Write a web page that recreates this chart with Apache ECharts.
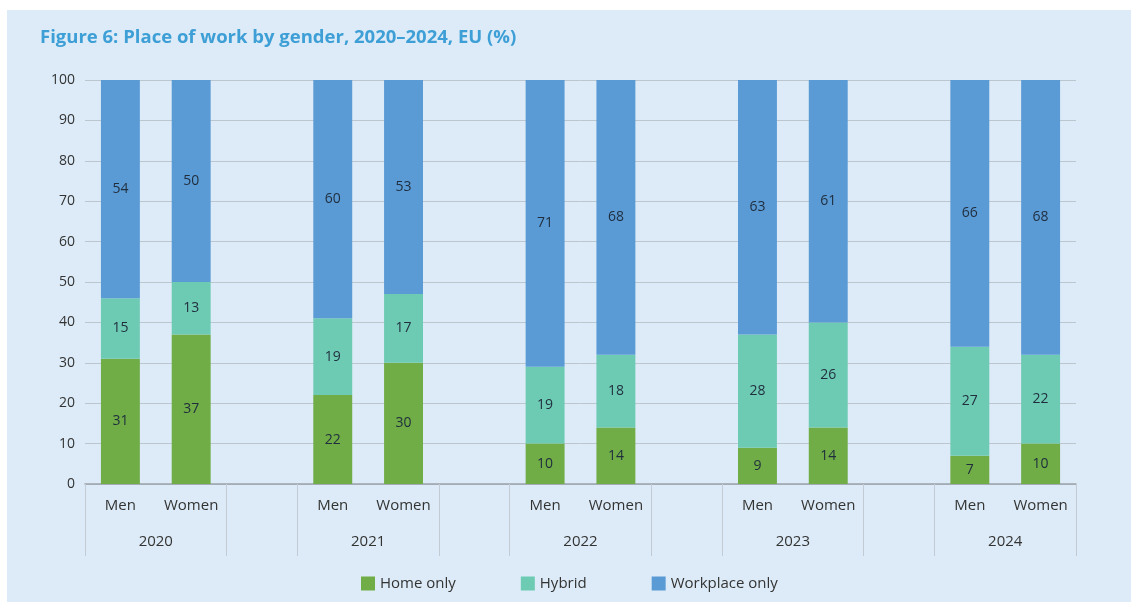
<!DOCTYPE html>
<html>
<head>
<meta charset="utf-8">
<script src="https://cdn.jsdelivr.net/npm/echarts@6/dist/echarts.min.js"></script>
<style>
html,body{margin:0;padding:0;background:#ffffff;width:1131px;height:602px;overflow:hidden;}
#c{position:absolute;left:7px;top:10px;width:1124px;height:592px;}
</style>
</head>
<body>
<div id="c"></div>
<script>
const years = ['2020', '2021', '2022', '2023', '2024'];
const genders = ['Men', 'Women'];
const homeOnly = [31, 37, 22, 30, 10, 14, 9, 14, 7, 10];
const hybrid = [15, 13, 19, 17, 19, 18, 28, 26, 27, 22];
const workplaceOnly = [54, 50, 60, 53, 71, 68, 63, 61, 66, 68];
const seriesNames = ['Home only', 'Hybrid', 'Workplace only'];
const yTicks = [0, 10, 20, 30, 40, 50, 60, 70, 80, 90, 100];

// build slots: Men, Women, gap, Men, Women, gap, ...
const slotLabels = [];
function toSlots(arr) {
  const out = [];
  years.forEach((y, i) => {
    out.push(arr[i * 2], arr[i * 2 + 1]);
    if (i < years.length - 1) out.push(null);
  });
  return out;
}
years.forEach((y, i) => {
  slotLabels.push(genders[0], genders[1]);
  if (i < years.length - 1) slotLabels.push('');
});
const nSlots = slotLabels.length;
const boundaries = [];
const yearCenters = [];
years.forEach((y, i) => {
  const s = i * 3;
  boundaries.push(s, s + 2);
  yearCenters.push(s + 1);
});
boundaries.push(nSlots);

const chart = echarts.init(document.getElementById('c'));
const labelStyle = { show: true, position: 'inside', color: '#1f2d3d', fontSize: 14, fontFamily: 'Open Sans' };
function mk(name, data, color) {
  return {
    name: name, type: 'bar', stack: 'total', xAxisIndex: 0,
    data: toSlots(data), barWidth: '55%',
    itemStyle: { color: color },
    label: labelStyle
  };
}
chart.setOption({
  backgroundColor: '#dcebf7',
  animation: false,
  title: {
    text: 'Figure 6: Place of work by gender, 2020–2024, EU (%)',
    left: 28, top: 13,
    textStyle: { color: '#3d9fd6', fontSize: 18.5, fontWeight: 'bold', fontFamily: 'Open Sans' }
  },
  legend: {
    data: seriesNames,
    left: 349, top: 561,
    itemWidth: 14, itemHeight: 14, itemGap: 65,
    icon: 'rect',
    textStyle: { color: '#333', fontSize: 15, fontFamily: 'Open Sans' }
  },
  grid: { left: 78, right: 55, top: 70, bottom: 118 },
  xAxis: [
    {
      type: 'category', data: slotLabels, position: 'bottom',
      axisLine: { show: true, lineStyle: { color: '#9aa4ac', width: 1.5 } },
      axisTick: { show: false },
      axisLabel: { color: '#333', fontSize: 15, margin: 14, fontFamily: 'Open Sans', interval: 0 },
      splitLine: { show: false }
    },
    {
      type: 'value', min: 0, max: nSlots, position: 'bottom',
      axisLine: { show: false },
      splitLine: { show: false },
      axisTick: { show: true, customValues: boundaries, length: 72, lineStyle: { color: '#c3ccd4' } },
      axisLabel: {
        show: true, customValues: yearCenters, margin: 50, color: '#333', fontSize: 15, fontFamily: 'Open Sans',
        formatter: v => years[Math.round((v - 1) / 3)]
      }
    }
  ],
  yAxis: {
    type: 'value', min: 0, max: 100, interval: 10,
    axisLine: { show: false }, axisTick: { show: false },
    axisLabel: { color: '#333', fontSize: 14, margin: 10, fontFamily: 'Open Sans',
      formatter: v => yTicks.includes(v) ? String(v) : '' },
    splitLine: { lineStyle: { color: '#bcc6ce', width: 1 } }
  },
  series: [
    mk(seriesNames[0], homeOnly, '#70ad47'),
    mk(seriesNames[1], hybrid, '#6ecbb3'),
    mk(seriesNames[2], workplaceOnly, '#5b9bd5')
  ]
});
</script>
</body>
</html>
